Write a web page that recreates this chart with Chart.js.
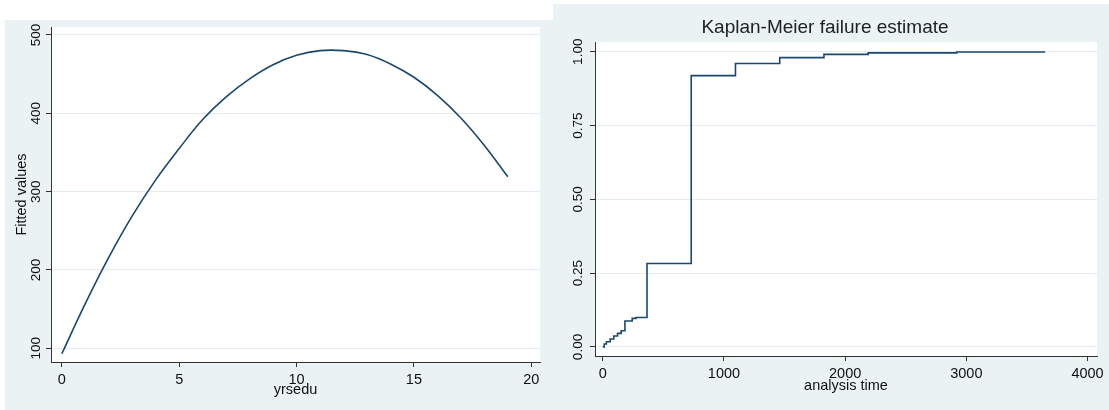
<!DOCTYPE html>
<html>
<head>
<meta charset="utf-8">
<script src="https://cdn.jsdelivr.net/npm/chart.js@4/dist/chart.umd.min.js"></script>
<style>
  body { margin: 0; background: #fff; width: 1109px; height: 410px; position: relative; overflow: hidden; }
  canvas { position: absolute; background: #eaf2f3; }
  #fitChart { left: 5px; top: 20px; }
  #kmChart { left: 553px; top: 4px; }
</style>
</head>
<body>
<canvas id="fitChart" width="548" height="390"></canvas>
<canvas id="kmChart" width="556" height="406"></canvas>
<script>
// left graph: fitted values against years of education
var yrsedu = [0, 1, 2, 3, 4, 5, 6, 7, 8, 9, 10, 11, 12, 13, 14, 15, 16, 17, 18, 19];
var fitted = [93, 157, 216, 269, 315, 355, 392, 421, 444, 462, 474, 480, 480, 475, 463, 446, 423, 394, 359, 319];
var fitXTicks = [0, 5, 10, 15, 20];
var fitYTicks = [100, 200, 300, 400, 500];

// right graph: Kaplan-Meier failure estimate (step function)
var kmTime = [0, 12, 30, 61, 91, 122, 152, 183, 243, 274, 365, 730, 1095, 1460, 1825, 2190, 2920, 3650];
var kmFail = [0, 0.010, 0.018, 0.027, 0.037, 0.046, 0.055, 0.088, 0.097, 0.100, 0.283, 0.919, 0.960, 0.980, 0.991, 0.996, 0.999, 0.999];
var kmXTicks = [0, 1000, 2000, 3000, 4000];
var kmYTicks = [0, 0.25, 0.5, 0.75, 1];
var kmYLabels = ['0.00', '0.25', '0.50', '0.75', '1.00'];

Chart.defaults.font.family = "'Liberation Sans', Arial, sans-serif";
Chart.defaults.color = '#111';

var lineColor = '#1a476f';
var gridColor = '#e3ecee';
var axisColor = '#333';

// white plot region like Stata
var plotBg = {
  id: 'plotBg',
  beforeDraw: function(chart) {
    var a = chart.chartArea, ctx = chart.ctx;
    ctx.save();
    ctx.fillStyle = '#fff';
    ctx.fillRect(a.left, a.top, a.width, a.height);
    ctx.restore();
  }
};

function fixTicks(list) {
  return function(scale) {
    scale.ticks = list.map(function(v) { return { value: v }; });
  };
}

function plain(v) { return String(v); }

new Chart(document.getElementById('fitChart'), {
  type: 'line',
  data: {
    datasets: [{
      data: yrsedu.map(function(x, i) { return { x: x, y: fitted[i] }; }),
      borderColor: lineColor,
      borderWidth: 1.6,
      pointRadius: 0,
      tension: 0.4,
      fill: false
    }]
  },
  plugins: [plotBg],
  options: {
    responsive: false,
    animation: false,
    devicePixelRatio: 1,
    layout: { padding: { top: 7, right: 13, left: 0, bottom: 0 } },
    plugins: { legend: { display: false }, tooltip: { enabled: false } },
    scales: {
      x: {
        type: 'linear',
        min: -0.46,
        max: 20.37,
        afterBuildTicks: fixTicks(fitXTicks),
        afterFit: function(s) { s.height = 48; },
        border: { color: axisColor, width: 1 },
        grid: { drawOnChartArea: false, tickLength: 5, tickColor: axisColor },
        ticks: { font: { size: 14.5 }, padding: 4.5, maxRotation: 0, callback: plain },
        title: { display: true, text: 'yrsedu', font: { size: 14.5 }, color: '#111', padding: { top: 0, bottom: 11 } }
      },
      y: {
        min: 82.5,
        max: 510.2,
        afterBuildTicks: fixTicks(fitYTicks),
        afterFit: function(s) { s.width = 46; },
        border: { color: axisColor, width: 1 },
        grid: { color: gridColor, tickLength: 5, tickColor: axisColor },
        ticks: { font: { size: 13.5 }, padding: -2, minRotation: 90, maxRotation: 90, crossAlign: 'center', callback: plain },
        title: { display: true, text: 'Fitted values', font: { size: 14.5 }, color: '#111', padding: { top: 8.5, bottom: 0 } }
      }
    }
  }
});

new Chart(document.getElementById('kmChart'), {
  type: 'line',
  data: {
    datasets: [{
      data: kmTime.map(function(t, i) { return { x: t, y: kmFail[i] }; }),
      borderColor: lineColor,
      borderWidth: 1.6,
      pointRadius: 0,
      stepped: 'before',
      fill: false
    }]
  },
  plugins: [plotBg],
  options: {
    responsive: false,
    animation: false,
    devicePixelRatio: 1,
    layout: { padding: { top: 0, right: 12, left: 0, bottom: 0 } },
    plugins: {
      legend: { display: false },
      tooltip: { enabled: false },
      title: {
        display: true,
        text: 'Kaplan-Meier failure estimate',
        color: '#222',
        font: { size: 19, weight: 'normal' },
        padding: { top: 12, bottom: 3.2 }
      }
    },
    scales: {
      x: {
        type: 'linear',
        min: -64,
        max: 4078,
        afterBuildTicks: fixTicks(kmXTicks),
        afterFit: function(s) { s.height = 54; },
        border: { color: axisColor, width: 1 },
        grid: { drawOnChartArea: false, tickLength: 5, tickColor: axisColor },
        ticks: { font: { size: 14.5 }, padding: 4, maxRotation: 0, callback: plain },
        title: { display: true, text: 'analysis time', font: { size: 14.5 }, color: '#111', padding: { top: 0, bottom: 15 } }
      },
      y: {
        min: -0.0305,
        max: 1.033,
        afterBuildTicks: fixTicks(kmYTicks),
        afterFit: function(s) { s.width = 42; },
        border: { color: axisColor, width: 1 },
        grid: { color: gridColor, tickLength: 5, tickColor: axisColor },
        ticks: {
          font: { size: 13.5 },
          padding: -1,
          minRotation: 90,
          maxRotation: 90,
          crossAlign: 'center',
          callback: function(v) {
            var i = kmYTicks.indexOf(v);
            return i >= 0 ? kmYLabels[i] : '';
          }
        }
      }
    }
  }
});
</script>
</body>
</html>
